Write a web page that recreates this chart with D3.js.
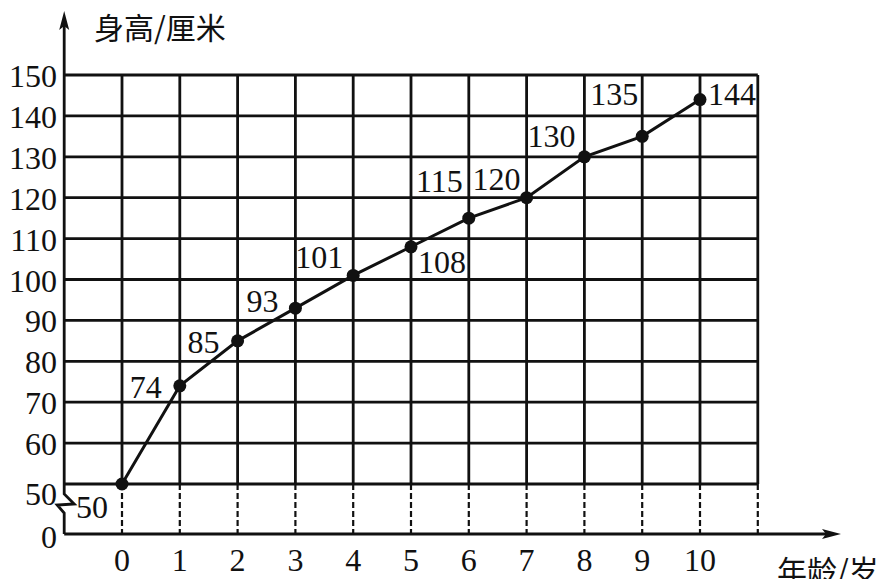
<!DOCTYPE html>
<html>
<head>
<meta charset="utf-8">
<script src="https://cdn.jsdelivr.net/npm/d3@7"></script>
<style>
  body { margin: 0; background: #fff; }
  svg { display: block; }
</style>
</head>
<body>
<svg id="chart" width="894" height="579"></svg>
<script>
// 数据：年龄与身高
var ages = [0, 1, 2, 3, 4, 5, 6, 7, 8, 9, 10];
var heights = [50, 74, 85, 93, 101, 108, 115, 120, 130, 135, 144];
var yTicks = [50, 60, 70, 80, 90, 100, 110, 120, 130, 140, 150];
var yTitle = "身高/厘米";
var xTitle = "年龄/岁";

// 标签放置方式（锚点, dx, dy）
var labelPlace = [
  ["end", -14, 34], ["end", -18, 12], ["end", -18, 12], ["end", -17, 4],
  ["end", -10, -7], ["start", 7, 26], ["end", -6, -26], ["end", -6, -8],
  ["end", -9, -10], ["end", -4, -31], ["start", 8, 5]
];

var width = 894;
var height = 579;
var ink = "#111";
var numFont = "'Liberation Serif', 'Times New Roman', serif";
var cjkFont = "'Noto Sans CJK SC', sans-serif";

var xScale = d3.scaleLinear().domain([-1, 11]).range([64.2, 757.8]);
var yScale = d3.scaleLinear().domain([50, 150]).range([484, 75]);
var yZero = 534; // 断开后的0刻度位置

var svg = d3.select("#chart");

// 横向网格
svg.append("g")
  .selectAll("line")
  .data(yTicks)
  .enter()
  .append("line")
    .attr("x1", xScale(-1))
    .attr("x2", xScale(11))
    .attr("y1", d => yScale(d))
    .attr("y2", d => yScale(d))
    .attr("stroke", ink)
    .attr("stroke-width", 2.8);

// 纵向网格（实线部分）
var cols = d3.range(0, 12);
svg.append("g")
  .selectAll("line")
  .data(cols)
  .enter()
  .append("line")
    .attr("x1", d => xScale(d))
    .attr("x2", d => xScale(d))
    .attr("y1", yScale(150))
    .attr("y2", yScale(50))
    .attr("stroke", ink)
    .attr("stroke-width", 2.8);

// 纵向虚线（50以下）
svg.append("g")
  .selectAll("line")
  .data(cols)
  .enter()
  .append("line")
    .attr("x1", d => xScale(d))
    .attr("x2", d => xScale(d))
    .attr("y1", yScale(50))
    .attr("y2", yZero)
    .attr("stroke", ink)
    .attr("stroke-width", 2.2)
    .attr("stroke-dasharray", "6,3");

// y轴（含断开符号）
var ax = xScale(-1);
svg.append("path")
  .attr("d", "M" + ax + ",22 L" + ax + "," + (yScale(50) + 10) +
             " L" + (ax + 10) + "," + (yScale(50) + 20) +
             " L" + (ax - 7) + "," + (yScale(50) + 21) +
             " L" + ax + "," + (yScale(50) + 29) +
             " L" + ax + "," + yZero)
  .attr("fill", "none")
  .attr("stroke", ink)
  .attr("stroke-width", 2.8)
  .attr("stroke-linejoin", "miter");

svg.append("path")
  .attr("d", "M" + ax + ",11 L" + (ax - 5) + ",30 L" + ax + ",26 L" + (ax + 5) + ",30 Z")
  .attr("fill", ink);

// x轴
svg.append("line")
  .attr("x1", ax)
  .attr("x2", 830)
  .attr("y1", yZero)
  .attr("y2", yZero)
  .attr("stroke", ink)
  .attr("stroke-width", 2.8);

svg.append("path")
  .attr("d", "M841," + yZero + " L822," + (yZero - 5) + " L826," + yZero + " L822," + (yZero + 5) + " Z")
  .attr("fill", ink);

// y轴刻度文字
svg.append("g")
  .selectAll("text")
  .data(yTicks)
  .enter()
  .append("text")
    .attr("x", 57)
    .attr("y", d => yScale(d) + (d === 50 ? 21 : 12))
    .attr("text-anchor", "end")
    .style("font-family", numFont)
    .style("font-size", "32px")
    .attr("fill", ink)
    .text(d => d);

svg.append("text")
  .attr("x", 57)
  .attr("y", yZero + 14)
  .attr("text-anchor", "end")
  .style("font-family", numFont)
  .style("font-size", "32px")
  .attr("fill", ink)
  .text("0");

// x轴刻度文字
svg.append("g")
  .selectAll("text")
  .data(ages)
  .enter()
  .append("text")
    .attr("x", d => xScale(d))
    .attr("y", 571)
    .attr("text-anchor", "middle")
    .style("font-family", numFont)
    .style("font-size", "32px")
    .attr("fill", ink)
    .text(d => d);

// 折线
var line = d3.line()
  .x((d, i) => xScale(ages[i]))
  .y(d => yScale(d));

svg.append("path")
  .datum(heights)
  .attr("d", line)
  .attr("fill", "none")
  .attr("stroke", ink)
  .attr("stroke-width", 3);

// 点
svg.append("g")
  .selectAll("circle")
  .data(heights)
  .enter()
  .append("circle")
    .attr("cx", (d, i) => xScale(ages[i]))
    .attr("cy", d => yScale(d))
    .attr("r", 6.5)
    .attr("fill", ink);

// 数值标签
svg.append("g")
  .selectAll("text")
  .data(heights)
  .enter()
  .append("text")
    .attr("x", (d, i) => xScale(ages[i]) + labelPlace[i][1])
    .attr("y", (d, i) => yScale(d) + labelPlace[i][2])
    .attr("text-anchor", (d, i) => labelPlace[i][0])
    .style("font-family", numFont)
    .style("font-size", "32px")
    .attr("fill", ink)
    .text(d => d);

// 轴标题
svg.append("text")
  .attr("x", 94)
  .attr("y", 39)
  .style("font-family", cjkFont)
  .style("font-size", "30px")
  .attr("fill", ink)
  .text(yTitle);

svg.append("text")
  .attr("x", 777)
  .attr("y", 582)
  .style("font-family", cjkFont)
  .style("font-size", "30px")
  .attr("fill", ink)
  .text(xTitle);
</script>
</body>
</html>
